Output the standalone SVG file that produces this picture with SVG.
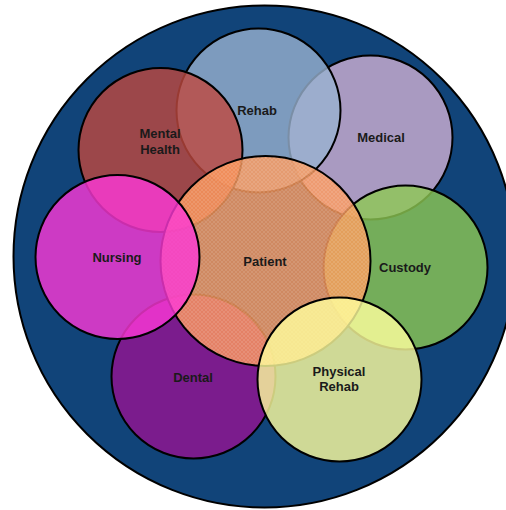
<svg xmlns="http://www.w3.org/2000/svg" width="506" height="510" viewBox="0 0 506 510">
  <defs>
    <!-- fine cross-hatch texture used on the central circle -->
    <pattern id="hatch" width="4" height="4" patternUnits="userSpaceOnUse">
      <path d="M0,0 L4,4 M4,0 L0,4" stroke="#ffffff" stroke-opacity="0.14" stroke-width="0.8" fill="none"/>
    </pattern>
    <style>
      .ring { stroke: #000; stroke-width: 2; fill-opacity: 0.8; }
      .label { font-family: "Liberation Sans", Arial, sans-serif; font-weight: bold; font-size: 13px; fill: #1a1a1a; text-anchor: middle; }
    </style>
  </defs>

  <rect width="506" height="510" fill="#ffffff"/>

  <!-- outer boundary -->
  <g id="boundary">
    <circle cx="264.5" cy="256.5" r="251" fill="#114479" stroke="#000" stroke-width="2"/>
  </g>

  <g id="medical">
    <circle class="ring" cx="370.5" cy="137.5" r="82" fill="#cfb0d3"/>
    <text class="label" x="381" y="141.5">Medical</text>
  </g>

  <g id="rehab">
    <circle class="ring" cx="258.5" cy="110.5" r="82" fill="#99b2cf"/>
    <text class="label" x="257" y="114.5">Rehab</text>
  </g>

  <g id="mental-health">
    <circle class="ring" cx="160.5" cy="150" r="82" fill="#bf483e"/>
    <text class="label" x="160" y="138">Mental</text>
    <text class="label" x="160" y="153.5">Health</text>
  </g>

  <g id="custody">
    <circle class="ring" cx="405.5" cy="267.5" r="82" fill="#8dc852"/>
    <text class="label" x="405" y="271.5">Custody</text>
  </g>

  <g id="dental">
    <circle class="ring" cx="193.5" cy="376.5" r="82" fill="#961392"/>
    <text class="label" x="193" y="381.5">Dental</text>
  </g>

  <g id="patient">
    <circle class="ring" cx="265.5" cy="261" r="105" fill="#ff9b5d"/>
    <circle cx="265.5" cy="261" r="104" fill="url(#hatch)"/>
    <text class="label" x="265" y="265.5">Patient</text>
  </g>

  <g id="nursing">
    <circle class="ring" cx="117.5" cy="257" r="82" fill="#fd38d7"/>
    <text class="label" x="117" y="261.5">Nursing</text>
  </g>

  <g id="physical-rehab">
    <circle class="ring" cx="339.5" cy="379.5" r="82" fill="#ffff9d"/>
    <text class="label" x="339" y="375.5">Physical</text>
    <text class="label" x="339" y="390.5">Rehab</text>
  </g>

  <g id="connectors"/>
</svg>
